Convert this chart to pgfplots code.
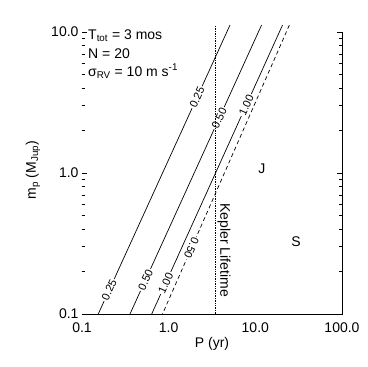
\documentclass[border=0pt]{standalone}
\usepackage{fontspec}
\setmainfont{Liberation Sans}
\usepackage{pgfplots}
\pgfplotsset{compat=1.18}
\tikzset{lbl/.style={font=\fontsize{11}{13}\selectfont, fill=white, inner sep=1.3pt, sloped}}
\begin{document}
\begin{tikzpicture}[font=\fontsize{14}{17}\selectfont]
\begin{axis}[
  at={(82pt,53pt)}, anchor=south west,
  scale only axis, width=260pt, height=282pt,
  xmode=log, ymode=log,
  xmin=0.1, xmax=100, ymin=0.1, ymax=10,
  clip=false,
  axis line style={draw=none},
  xtick={0.1,1,10,100}, xticklabels={0.1,1.0,10.0,100.0},
  ytick={0.1,1,10}, yticklabels={0.1,1.0,10.0},
  xtick pos=bottom, ytick pos=both,
  tick align=inside,
  major tick length=5pt, minor tick length=3pt,
  xtick style={draw=none}, xminorticks=false,
  ytick style={black, line width=0.5pt},
  xticklabel style={yshift=-5pt},
]
\addplot[black, line width=0.7pt] coordinates {(0.154,0.1) (5.1,11.2)}
  node[pos=0.083, lbl] {0.25}
  node[pos=0.75, lbl] {0.25};
\addplot[black, line width=0.7pt] coordinates {(0.358,0.1) (11.8,11.2)}
  node[pos=0.118, lbl] {0.50}
  node[pos=0.678, lbl] {0.50};
\addplot[black, line width=0.7pt] coordinates {(0.637,0.1) (20.6,11.2)}
  node[pos=0.107, lbl] {1.00}
  node[pos=0.723, lbl] {1.00};
\addplot[black, line width=0.7pt, dash pattern=on 4pt off 3pt] coordinates {(24.7,11.2) (0.849,0.1)}
  node[pos=0.772, lbl, allow upside down] {0.50};
\addplot[black, line width=0.7pt, dash pattern=on 0.7pt off 1pt] coordinates {(3.5,0.1) (3.5,11.2)};
\draw[line width=0.6pt] (rel axis cs:0,0) -- (rel axis cs:1,0) -- (rel axis cs:1,1);
\node[anchor=base west, inner sep=0pt] at ([xshift=6pt,yshift=-7pt]rel axis cs:0,1) {T\textsubscript{tot} = 3 mos};
\node[anchor=base west, inner sep=0pt] at ([xshift=6pt,yshift=-26pt]rel axis cs:0,1) {N = 20};
\node[anchor=base west, inner sep=0pt] at ([xshift=6pt,yshift=-44pt]rel axis cs:0,1) {σ\textsubscript{RV} = 10 m s\textsuperscript{-1}};
\node[anchor=base] at (axis cs:11.86,1.0) {J};
\node[anchor=base] at (axis cs:29.5,0.3) {S};
\node[rotate=-90, anchor=south west, inner sep=0pt] at ([xshift=1.5pt]axis cs:3.5,0.61) {Kepler Lifetime};
\node[anchor=base, inner sep=0pt] at ([yshift=-33pt]rel axis cs:0.5,0) {P (yr)};
\node[rotate=90, anchor=base, inner sep=0pt] at ([xshift=-46pt]rel axis cs:0,0.51) {m\textsubscript{p} (M\textsubscript{Jup})};
\end{axis}
\pgfresetboundingbox
\path[use as bounding box] (0,0) rectangle (367pt,367pt);
\end{tikzpicture}
\end{document}
